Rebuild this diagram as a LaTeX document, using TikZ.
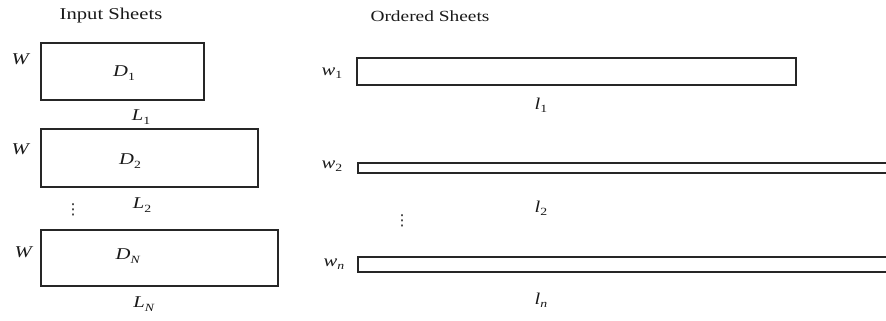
\documentclass[tikz,border=0pt]{standalone}
\usepackage{fontspec}
\setmainfont{Liberation Serif}[FakeStretch=1.25]
\newfontfamily\dvfont{DejaVu Sans}
\newcommand\sublbl[2]{\textit{#1}\raisebox{-0.45ex}{\fontsize{11}{11}\selectfont #2}}
\begin{document}
\begin{tikzpicture}[x=1pt,y=-1pt,
  sheet/.style={draw=black!85, line width=1.5pt, inner sep=0pt},
  lab/.style={inner sep=0pt, font=\fontsize{16.5}{16.5}\selectfont, text=black!90},
  dots/.style={inner sep=0pt, font=\dvfont\fontsize{15}{15}\selectfont, text=black!90},
  head/.style={inner sep=0pt, text=black!90}]
\useasboundingbox (0,0) rectangle (886,321);
\clip (0,0) rectangle (886,321);
% titles
\node[head, font=\fontsize{16.5}{17}\selectfont] (tin) at (111,16) {Input Sheets};
\node[head, font=\fontsize{15.5}{16}\selectfont] (tord) at (430,16) {Ordered Sheets};
% input sheets
\node[sheet, minimum width=163pt, minimum height=57pt] (b1) at (122.5,71.5) {};
\node[sheet, minimum width=217pt, minimum height=58pt] (b2) at (149.5,158) {};
\node[sheet, minimum width=237pt, minimum height=56pt] (bn) at (159.5,258) {};
\node[lab] (d1) at (124,73) {\sublbl{D}{1}};
\node[lab] (d2) at (130,161) {\sublbl{D}{2}};
\node[lab] (dn) at (128,256) {\sublbl{D}{\textit{N}}};
\node[lab] (W1) at (21,59) {\textit{W}};
\node[lab] (W2) at (21,149) {\textit{W}};
\node[lab] (Wn) at (24,252) {\textit{W}};
\node[lab] (L1) at (141,117) {\sublbl{L}{1}};
\node[lab] (L2) at (142,205) {\sublbl{L}{2}};
\node[lab] (Ln) at (144,304) {\sublbl{L}{\textit{N}}};
\node[dots] (vd1) at (73,210) {⋮};
% ordered sheets
\node[sheet, minimum width=439pt, minimum height=27pt] (r1) at (576.5,71.5) {};
\draw[sheet] (358,163) rectangle (895,173);
\draw[sheet] (358,257) rectangle (895,272);
\coordinate (r2) at (620,168);
\coordinate (rn) at (620,264.5);
\node[lab] (w1) at (332,73) {\sublbl{w}{1}};
\node[lab] (w2) at (332,166) {\sublbl{w}{2}};
\node[lab] (wn) at (334,264) {\sublbl{w}{\textit{n}}};
\node[lab] (l1) at (541,105) {\sublbl{l}{1}};
\node[lab] (l2) at (541,208) {\sublbl{l}{2}};
\node[lab] (ln) at (541,300) {\sublbl{l}{\textit{n}}};
\node[dots] (vd2) at (402,221) {⋮};
\end{tikzpicture}
\end{document}
